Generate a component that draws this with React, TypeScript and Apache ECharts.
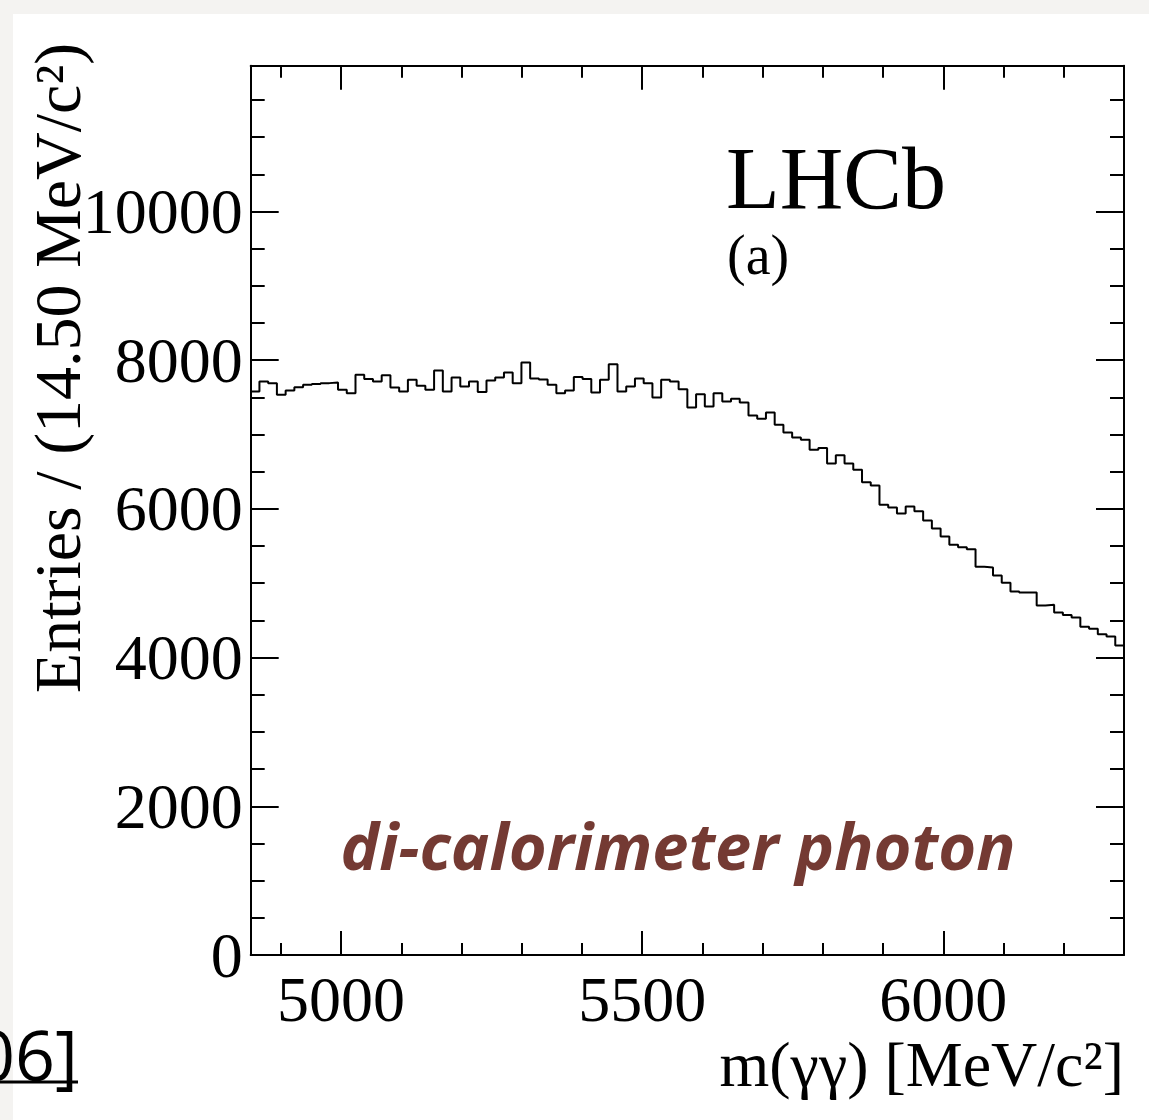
import React, { useEffect, useRef } from "react";
import * as echarts from "echarts";

const lowEdge = 4850;
const highEdge = 6300;
const binWidth = 14.5;
const counts = [
  7579, 7713, 7691, 7534, 7592, 7637, 7668, 7678, 7691, 7700, 7601, 7556, 7803, 7745, 7713, 7798, 7633, 7579, 7736, 7655, 7601, 7861, 7579, 7767,
  7646, 7713, 7570, 7727, 7767, 7835, 7691, 7969, 7754, 7740, 7668, 7556, 7592, 7772, 7745, 7565, 7736, 7946, 7579, 7646, 7754, 7691, 7498,
  7736, 7713, 7610, 7364, 7543, 7377, 7556, 7444, 7480, 7431, 7256, 7211, 7296, 7130, 7027, 6960, 6929, 6794, 6817, 6610, 6722, 6610, 6525,
  6359, 6314, 6054, 6018, 5937, 6032, 5969, 5843, 5735, 5628, 5516, 5485, 5458, 5220, 5211, 5103, 5005, 4888, 4875, 4875, 4700, 4709, 4606, 4574, 4538, 4413, 4386, 4314, 4283, 4162,
];
const yMax = 11960;
const xMajorTicks = [5000, 5500, 6000];
const xMinorTicks = [4900, 5000, 5100, 5200, 5300, 5400, 5500, 5600, 5700, 5800, 5900, 6000, 6100, 6200, 6300];
const yMajorTicks = [0, 2000, 4000, 6000, 8000, 10000];
const yMinorTicks = [0, 500, 1000, 1500, 2000, 2500, 3000, 3500, 4000, 4500, 5000, 5500, 6000, 6500, 7000, 7500, 8000, 8500, 9000, 9500, 10000, 10500, 11000, 11500];
const xTitle = "m(γγ) [MeV/c²]";
const yTitle = "Entries / (14.50 MeV/c²)";
const expLabel = "LHCb";
const panelLabel = "(a)";
const noteLabel = "di-calorimeter photon";
const citeLabel = "06]";

const SERIF = "'Liberation Serif', 'DejaVu Serif', serif";
const FS = 64;

function makeAxis(kind: "x" | "y", position: string, ticks: number[], len: number, labels: boolean, line: boolean) {
  return {
    type: "value",
    position,
    min: kind === "x" ? lowEdge : 0,
    max: kind === "x" ? highEdge : yMax,
    splitLine: { show: false },
    axisLine: { show: line, onZero: false, lineStyle: { color: "#000", width: 2 } },
    axisTick: {
      show: true,
      inside: true,
      length: len,
      customValues: ticks,
      lineStyle: { color: "#000", width: 2 },
    },
    axisLabel: labels
      ? {
          show: true,
          customValues: ticks,
          formatter: (v: number) => String(v),
          color: "#000",
          fontFamily: SERIF,
          fontSize: FS,
          margin: kind === "x" ? 12 : 8,
        }
      : { show: false },
  };
}

export default function App() {
  const ref = useRef<HTMLDivElement>(null);
  useEffect(() => {
    if (!ref.current) return;
    const chart = echarts.init(ref.current, null, { renderer: "svg" });
    const data: number[][] = counts.map((v, i) => [lowEdge + i * binWidth, v]);
    data.push([lowEdge + counts.length * binWidth, counts[counts.length - 1]]);
    chart.setOption({
      animation: false,
      grid: { left: 250.7, top: 65.7, width: 873.3, height: 889.3, outerBoundsMode: "none" },
      xAxis: [
        makeAxis("x", "bottom", xMajorTicks, 24, true, true),
        makeAxis("x", "bottom", xMinorTicks, 12, false, false),
        makeAxis("x", "top", xMajorTicks, 24, false, true),
        makeAxis("x", "top", xMinorTicks, 12, false, false),
      ],
      yAxis: [
        makeAxis("y", "left", yMajorTicks, 28, true, true),
        makeAxis("y", "left", yMinorTicks, 14, false, false),
        makeAxis("y", "right", yMajorTicks, 28, false, true),
        makeAxis("y", "right", yMinorTicks, 14, false, false),
      ],
      series: [
        {
          type: "line",
          xAxisIndex: 0,
          yAxisIndex: 0,
          step: "end",
          showSymbol: false,
          symbol: "none",
          data,
          lineStyle: { color: "#000", width: 2 },
          z: 5,
        },
      ],
      graphic: [
        {
          type: "text",
          x: 726,
          y: 178,
          style: { text: expLabel, font: `88px ${SERIF}`, fill: "#000", align: "left", verticalAlign: "middle" },
        },
        {
          type: "text",
          x: 727,
          y: 255,
          style: { text: panelLabel, font: `56px ${SERIF}`, fill: "#000", align: "left", verticalAlign: "middle" },
        },
        {
          type: "text",
          x: 1124,
          y: 1064,
          style: { text: xTitle, font: `${FS}px ${SERIF}`, fill: "#000", align: "right", verticalAlign: "middle" },
        },
        {
          type: "text",
          x: 57,
          y: 368,
          rotation: Math.PI / 2,
          style: { text: yTitle, font: `66px ${SERIF}`, fill: "#000", align: "center", verticalAlign: "middle" },
        },
        {
          type: "text",
          x: 678,
          y: 845,
          style: {
            text: noteLabel,
            font: `italic bold 65px 'Open Sans', Lato, sans-serif`,
            fill: "#743a33",
            align: "center",
            verticalAlign: "middle",
          },
        },
        {
          type: "text",
          x: 78,
          y: 1054,
          style: { text: citeLabel, font: `70px 'Open Sans', sans-serif`, fill: "#000", align: "right", verticalAlign: "middle" },
        },
        {
          type: "line",
          shape: { x1: 0, y1: 1082, x2: 78, y2: 1082 },
          style: { stroke: "#000", lineWidth: 3 },
        },
      ],
    });
    return () => chart.dispose();
  }, []);
  return (
    <div style={{ position: "absolute", left: 0, top: 0, width: 1149, height: 1120, background: "#f4f3f1", overflow: "hidden" }}>
      <div style={{ position: "absolute", left: 13, top: 14, width: 1136, height: 1106, background: "#ffffff" }} />
      <div ref={ref} style={{ position: "absolute", left: 0, top: 0, width: 1149, height: 1120 }} />
    </div>
  );
}
